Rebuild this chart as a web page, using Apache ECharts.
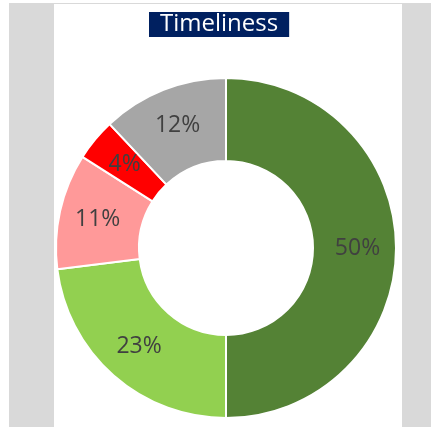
<!DOCTYPE html>
<html>
<head>
<meta charset="utf-8">
<script src="https://cdn.jsdelivr.net/npm/echarts@6/dist/echarts.min.js"></script>
<style>
  html, body { margin: 0; padding: 0; background: #fff; }
  #chart { width: 431px; height: 427px; }
</style>
</head>
<body>
<div id="chart"></div>
<script>
  // data
  var titleText = 'Timeliness';
  var categories = ['On time', 'Up to 1 week late', 'Up to 1 month late', 'Over 1 month late', 'Not reported'];
  var shares = [50, 23, 11, 4, 12];
  var sliceColors = ['#548235', '#92D050', '#FF9999', '#FF0000', '#A6A6A6'];

  var myChart = echarts.init(document.getElementById('chart'));

  var option = {
    backgroundColor: '#fff',
    animation: false,
    graphic: [
      // grey frame with white panel in the middle
      { type: 'rect', z: -10, shape: { x: 9, y: 3, width: 422, height: 424 }, style: { fill: '#D9D9D9' } },
      { type: 'rect', z: -9, shape: { x: 54, y: 4, width: 348, height: 423 }, style: { fill: '#fff' } }
    ],
    title: {
      text: titleText,
      left: 149,
      top: 12,
      backgroundColor: '#002060',
      padding: [0, 11, 0, 11],
      textStyle: {
        color: '#fff',
        fontFamily: 'Open Sans',
        fontWeight: 'normal',
        fontSize: 24,
        lineHeight: 25
      }
    },
    series: [
      {
        type: 'pie',
        center: [226, 248],
        radius: [87, 170],
        startAngle: 90,
        clockwise: true,
        data: categories.map(function (name, i) {
          return { name: name, value: shares[i], itemStyle: { color: sliceColors[i] } };
        }),
        itemStyle: {
          borderColor: '#fff',
          borderWidth: 2
        },
        label: {
          position: 'inside',
          formatter: '{c}%',
          color: '#404040',
          fontFamily: 'Open Sans',
          fontSize: 23
        },
        labelLine: { show: false },
        emphasis: { disabled: true }
      }
    ]
  };
  myChart.setOption(option);
</script>
</body>
</html>
